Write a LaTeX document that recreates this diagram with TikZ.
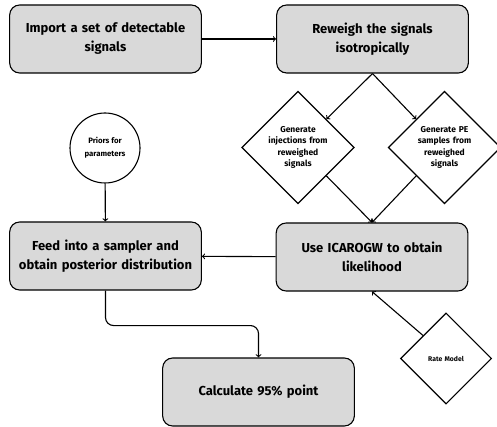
\documentclass[tikz,border=0pt]{standalone}
\usepackage{fontspec}
\setmainfont{Fira Sans}
\usetikzlibrary{shapes.geometric}

\begin{document}
\begin{tikzpicture}[x=1pt, y=-1pt, line width=1.1pt,
  stepbox/.style={rectangle, rounded corners=10pt, draw=black, fill=boxgray,
    minimum width=187pt, minimum height=68pt, text width=185pt, align=center,
    font=\bfseries\fontsize{13}{19}\selectfont},
  choice/.style={diamond, draw=black, fill=white, aspect=1, inner sep=0pt,
    text width=70pt, align=center, font=\bfseries\fontsize{8.5}{11.5}\selectfont}]
\definecolor{boxgray}{HTML}{D9D9D9}
\useasboundingbox (0,0) rectangle (497,427);

\node[stepbox] (import) at (105.5,39) {Import a set of detectable\\signals};
\node[stepbox] (reweigh) at (372.5,39) {Reweigh the signals\\isotropically};
\node[choice, minimum size=109pt] (inj) at (298,147.5) {Generate\\injections from\\reweighed\\signals};
\node[choice, minimum size=106pt] (pe) at (444.5,147.5) {Generate PE\\samples from\\reweighed\\signals};
\node[stepbox] (icaro) at (372,257) {Use ICAROGW to obtain\\likelihood};
\node[circle, draw=black, fill=white, minimum size=70pt, inner sep=0pt, align=center,
  font=\bfseries\fontsize{7.8}{13}\selectfont] (priors) at (105,148) {Priors for\\parameters};
\node[stepbox] (feed) at (105.5,256) {Feed into a sampler and\\obtain posterior distribution};
\node[choice, minimum size=91pt, text width=50pt, font=\bfseries\fontsize{6.8}{9}\selectfont] (rate) at (446,358.5) {Rate Model};
\node[stepbox, minimum width=183pt] (calc) at (258.5,392) {Calculate 95\% point};

\draw[->] (import) -- (reweigh);
\draw[->] (reweigh.south) -- (inj.north east);
\draw[->] (reweigh.south) -- (pe.north west);
\draw[->] (inj.south east) -- (icaro.north);
\draw[->] (pe.south west) -- (icaro.north);
\draw[->] (priors) -- (feed);
\draw[->] (icaro) -- (feed);
\draw[->] (rate.north west) -- (icaro.south);
\draw[->, rounded corners=8pt] (feed.south) -- ++(0,35) -| (calc.north);
\end{tikzpicture}
\end{document}
